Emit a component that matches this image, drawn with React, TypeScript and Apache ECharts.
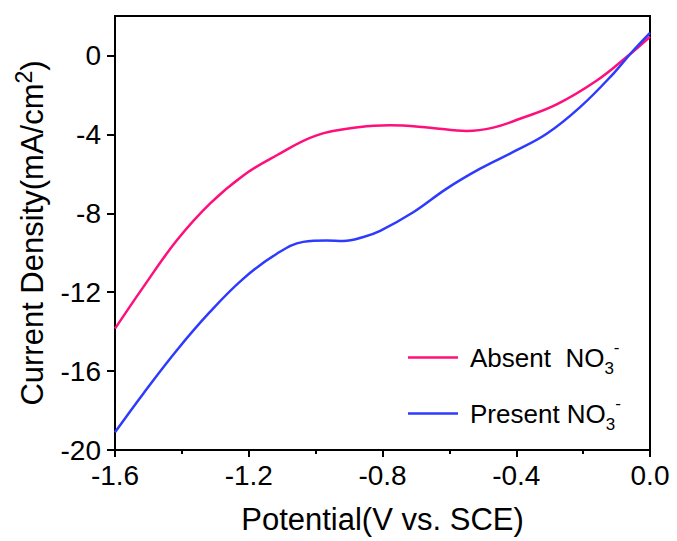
import React, { useEffect, useRef } from "react";
import * as echarts from "echarts";

const absentX = [-1.6, -1.515, -1.415, -1.316, -1.216, -1.116, -0.997, -0.867, -0.778, -0.658, -0.548, -0.469, -0.389, -0.279, -0.159, -0.07, 0];
const absentY = [-13.85, -11.73, -9.37, -7.51, -6.08, -5.06, -4.05, -3.63, -3.54, -3.66, -3.83, -3.66, -3.21, -2.48, -1.27, -0.08, 0.95];

const presentX = [-1.6, -1.515, -1.415, -1.316, -1.216, -1.116, -1.037, -0.967, -0.917, -0.857, -0.807, -0.708, -0.608, -0.508, -0.409, -0.309, -0.209, -0.11, -0.05, 0];
const presentY = [-19.1, -17.13, -14.94, -13.0, -11.31, -10.05, -9.45, -9.38, -9.4, -9.2, -8.89, -7.95, -6.75, -5.74, -4.89, -3.97, -2.62, -0.93, 0.25, 1.15];

const yTicks = [-20, -16, -12, -8, -4, 0];

const FONT = "'Liberation Sans', Arial, sans-serif";

export default function App() {
  const ref = useRef<HTMLDivElement>(null);
  useEffect(() => {
    if (!ref.current) return;
    const chart = echarts.init(ref.current, null, { renderer: "svg" });
    const zip = (xs: number[], ys: number[]) => xs.map((x, i) => [x, ys[i]]);
    chart.setOption({
      animation: false,
      backgroundColor: "#fff",
      textStyle: { fontFamily: FONT, color: "#000" },
      grid: {
        left: 115, right: 27, top: 16, bottom: 91,
        show: true, borderColor: "#000", borderWidth: 2, backgroundColor: "transparent",
      },
      xAxis: {
        type: "value", min: -1.6, max: 0, interval: 0.4,
        name: "Potential(V vs. SCE)", nameLocation: "middle", nameGap: 54,
        nameTextStyle: { fontSize: 31, color: "#000", fontFamily: FONT },
        axisLine: { show: true, onZero: false, lineStyle: { color: "#000", width: 2 } },
        axisTick: { show: true, inside: false, length: 7, lineStyle: { color: "#000", width: 2 } },
        minorTick: { show: true, splitNumber: 2, length: 4, lineStyle: { color: "#000", width: 2 } },
        splitLine: { show: false },
        axisLabel: {
          fontSize: 28, color: "#000", margin: 11, fontFamily: FONT,
          formatter: (v: number) => (Math.abs(v) < 1e-9 ? "0.0" : v.toFixed(1)),
        },
      },
      yAxis: {
        type: "value", min: -20, max: 2, interval: 4,
        name: "{t|Current Density(mA/cm}{s|2}{t|)}", nameLocation: "middle", nameGap: 62,
        nameTextStyle: {
          fontFamily: FONT, color: "#000",
          rich: {
            t: { fontSize: 31, color: "#000", fontFamily: FONT },
            s: { fontSize: 23, color: "#000", fontFamily: FONT, padding: [0, 0, 18, 0] },
          },
        },
        axisLine: { show: true, onZero: false, lineStyle: { color: "#000", width: 2 } },
        axisTick: { show: true, length: 8, customValues: yTicks, lineStyle: { color: "#000", width: 2 } },
        splitLine: { show: false },
        axisLabel: {
          fontSize: 28, color: "#000", margin: 14, fontFamily: FONT, customValues: yTicks,
          formatter: (v: number) => (v > 1 ? "" : String(Math.round(v))),
        },
      },
      legend: {
        orient: "vertical", left: 408, top: 339, padding: 0, itemGap: 18,
        itemWidth: 50, itemHeight: 2.5, icon: "rect",
        data: ["Absent", "Present"],
        formatter: (name: string) =>
          name === "Absent" ? "{n|Absent  NO}{sub|3}{sup|-}" : "{n|Present NO}{sub|3}{sup|-}",
        textStyle: {
          fontFamily: FONT, color: "#000",
          rich: {
            n: { fontSize: 26, color: "#000", fontFamily: FONT, padding: [0, 0, 0, 7] },
            sub: { fontSize: 17, color: "#000", fontFamily: FONT, padding: [22, 0, 0, 0] },
            sup: { fontSize: 17, color: "#000", fontFamily: FONT, padding: [0, 0, 20, 0] },
          },
        },
      },
      series: [
        {
          name: "Absent", type: "line", data: zip(absentX, absentY),
          smooth: 0.4, symbol: "none", lineStyle: { color: "#FF0F7B", width: 2.5 }, itemStyle: { color: "#FF0F7B" },
        },
        {
          name: "Present", type: "line", data: zip(presentX, presentY),
          smooth: 0.4, symbol: "none", lineStyle: { color: "#2E3BFF", width: 2.5 }, itemStyle: { color: "#2E3BFF" },
        },
      ],
    });
    return () => chart.dispose();
  }, []);
  return <div ref={ref} style={{ position: "fixed", left: 0, top: 0, width: 677, height: 541 }} />;
}
